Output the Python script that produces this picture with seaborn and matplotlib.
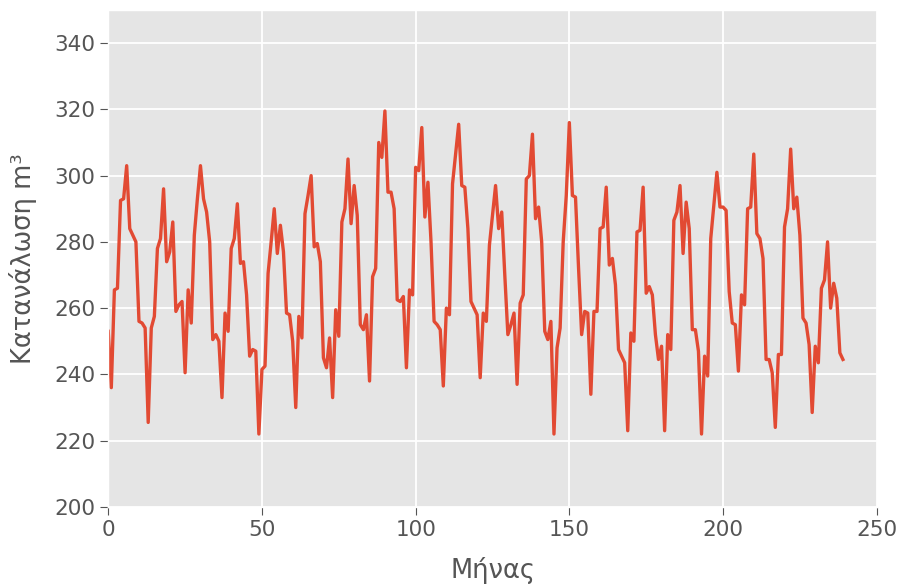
import matplotlib
matplotlib.use("Agg")
import matplotlib.pyplot as plt
import seaborn as sns
import pandas as pd

months = list(range(240))
consumption = [
    253, 236, 265.5, 266, 292.5, 293, 303, 284, 282, 280, 256, 255.5,
    254, 225.5, 254, 257.5, 278, 281, 296, 274, 277, 286, 259, 261,
    262, 240.5, 265.5, 255.5, 282, 293, 303, 293, 289, 280, 250.5, 252,
    250, 233, 258.5, 253, 278, 281, 291.5, 273.5, 274, 264, 245.5, 247.5,
    247, 222, 241.5, 242.5, 270.5, 280, 290, 276.5, 285, 277, 258.5, 258,
    250, 230, 257.5, 251, 288.5, 294, 300, 278.5, 279.5, 274, 245, 242,
    251, 233, 259.5, 251.5, 286, 290, 305, 285.5, 297, 288, 255, 253.5,
    258, 238, 269.5, 272, 310, 305.5, 319.5, 295, 295, 290, 262.5, 262,
    263.5, 242, 265.5, 264, 302.5, 301.5, 314.5, 287.5, 298, 280, 256, 255,
    253.5, 236.5, 260, 258, 297.5, 306.5, 315.5, 297, 296.5, 284, 262, 260,
    258, 239, 258.5, 256, 279, 288, 297, 284, 289, 270, 252, 255,
    258.5, 237, 261.5, 264, 299, 300, 312.5, 287, 290.5, 280, 253, 250.5,
    256, 222, 248, 254, 280, 294, 316, 294, 293.5, 272, 252, 259,
    258.5, 234, 259, 259, 284, 284.5, 296.5, 273, 275, 267, 247.5, 245.5,
    243.5, 223, 252.5, 250, 283, 283.5, 296.5, 264.5, 266.5, 264, 252, 244.5,
    248.5, 223, 252, 247.5, 286.5, 289, 297, 276.5, 292, 284, 253.5, 253.5,
    247, 222, 245.5, 239.5, 281, 291, 301, 290.5, 290.5, 289.5, 265, 255.5,
    255, 241, 264, 261, 290, 290.5, 306.5, 282.5, 281, 275, 244.5, 244.5,
    240.5, 224, 246, 246, 284.5, 290, 308, 290, 293.5, 282, 257, 255.5,
    249, 228.5, 248.5, 243.5, 266, 268.5, 280, 260, 267.5, 263, 246.5, 244.5,
]
x_ticks = [0, 50, 100, 150, 200, 250]
y_ticks = [200, 220, 240, 260, 280, 300, 320, 340]

plt.style.use("ggplot")
df = pd.DataFrame({"month": months, "value": consumption})

fig, ax = plt.subplots(figsize=(9.02, 5.86), dpi=100)
fig.subplots_adjust(left=0.12, right=0.972, top=0.983, bottom=0.135)
sns.lineplot(data=df, x="month", y="value", ax=ax, color="#E24A33", linewidth=2.4)
ax.set_xlim(0, 250)
ax.set_ylim(200, 350)
ax.set_xticks(x_ticks)
ax.set_yticks(y_ticks)
ax.tick_params(labelsize=15.5, colors="#555555", length=6)
ax.set_xlabel("Μήνας", fontsize=18.5, color="#555555", labelpad=12)
ax.set_ylabel("Κατανάλωση m³", fontsize=18.5, color="#555555", labelpad=12)
ax.grid(True, color="white", linewidth=1.3)
fig.savefig("out.png", dpi=100)
